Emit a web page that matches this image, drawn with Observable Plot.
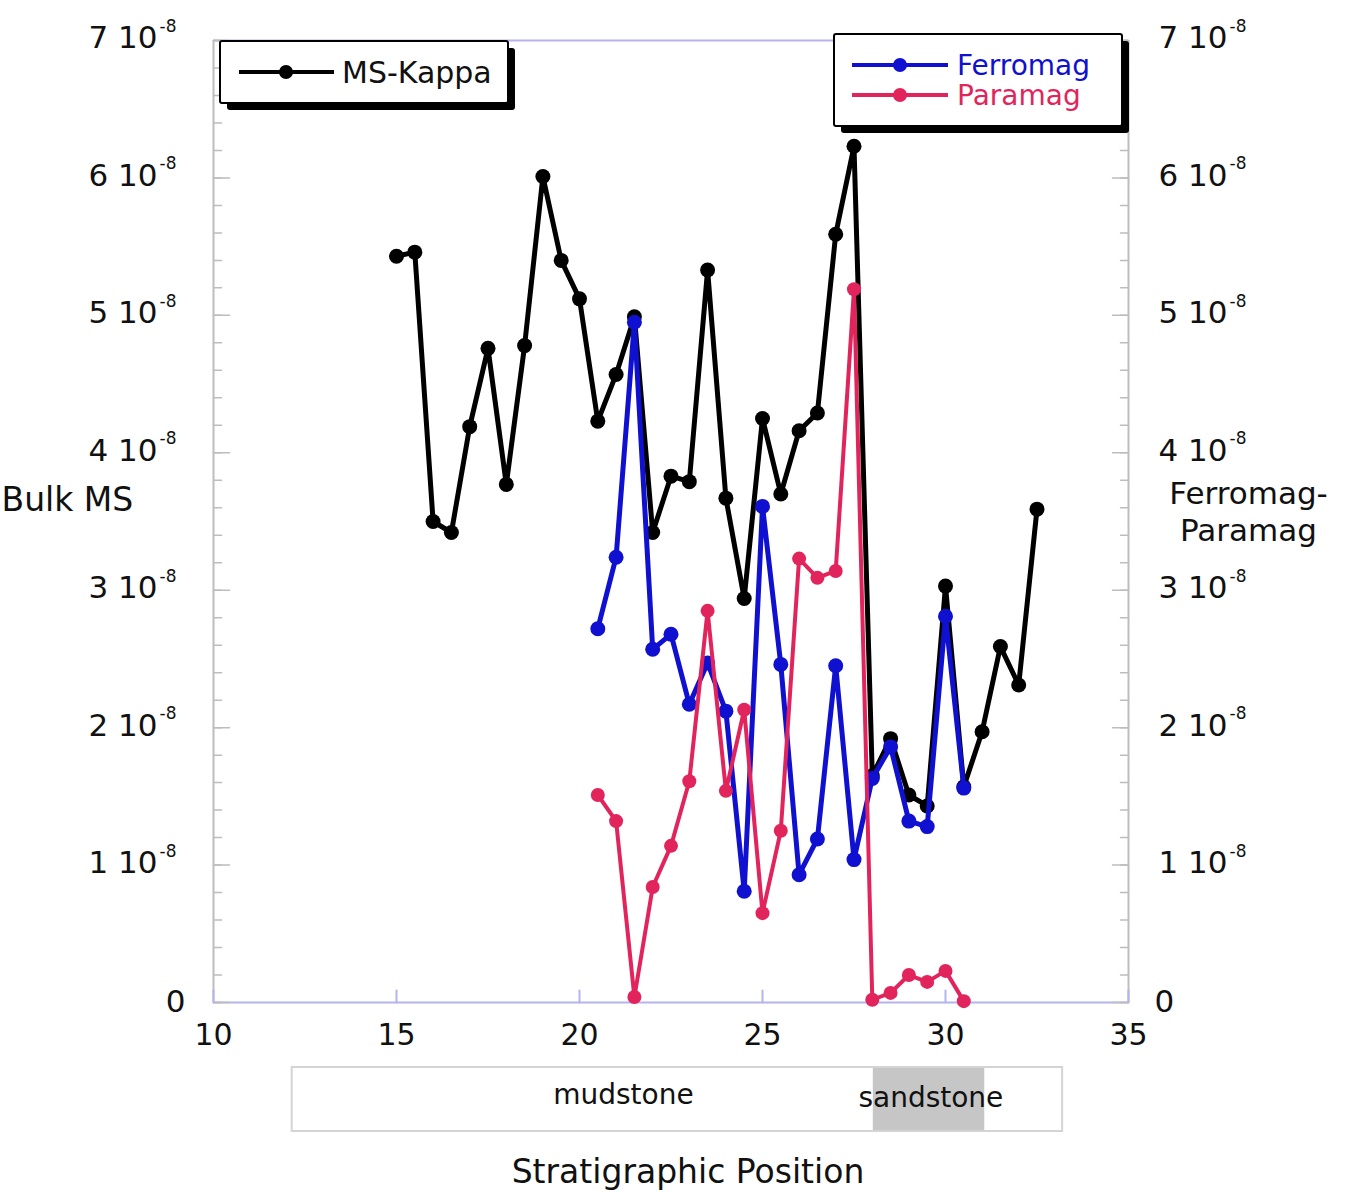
<!DOCTYPE html>
<html>
<head>
<meta charset="utf-8">
<script src="https://cdn.jsdelivr.net/npm/d3@7"></script>
<script src="https://cdn.jsdelivr.net/npm/@observablehq/plot@0.6"></script>
<style>
  html, body { margin: 0; padding: 0; background: #fff; }
  #wrap { position: relative; width: 1350px; height: 1202px; background: #fff; font-family: "DejaVu Sans", "Liberation Sans", sans-serif; overflow: hidden; }
  #main svg, #strip svg { display: block; overflow: visible; }
  #overlay { position: absolute; left: 0; top: 0; pointer-events: none; }
  #title { position: absolute; top: 1150px; left: 488px; width: 400px; text-align: center; font-size: 33px; color: #111; line-height: 44px; }
</style>
</head>
<body>
<div id="wrap">
  <div id="main"></div>
  <div id="strip"></div>
  <div id="title">Stratigraphic Position</div>
</div>
<script>
// ---- data (values in units of 1e-8) ----
const kappaPos = [15,15.5,16,16.5,17,17.5,18,18.5,19,19.5,20,20.5,21,21.5,22,22.5,23,23.5,24,24.5,25,25.5,26,26.5,27,27.5,28,28.5,29,29.5,30,30.5,31,31.5,32,32.5];
const msKappa  = [5.43,5.46,3.50,3.42,4.19,4.76,3.77,4.78,6.01,5.40,5.12,4.23,4.57,4.99,3.42,3.83,3.79,5.33,3.67,2.94,4.25,3.70,4.16,4.29,5.59,6.23,1.65,1.92,1.51,1.43,3.03,1.57,1.97,2.59,2.31,3.59];
const magPos   = [20.5,21,21.5,22,22.5,23,23.5,24,24.5,25,25.5,26,26.5,27,27.5,28,28.5,29,29.5,30,30.5];
const ferromag = [2.72,3.24,4.95,2.57,2.68,2.17,2.47,2.12,0.81,3.61,2.46,0.93,1.19,2.45,1.04,1.63,1.86,1.32,1.28,2.81,1.56];
const paramag  = [1.51,1.32,0.04,0.84,1.14,1.61,2.85,1.54,2.13,0.65,1.25,3.23,3.09,3.14,5.19,0.02,0.07,0.20,0.15,0.23,0.01];

const xTicks = [10,15,20,25,30,35];
const yTicks = [0,1,2,3,4,5,6,7];
const yLabelsNonZero = [1,2,3,4,5,6,7];
const yMinor = d3.range(0, 7.001, 0.2);
const exponentLabel = "-8";

const lithoBox = [{from: 12.15, to: 33.2}];
const lithoUnits = [{name: "sandstone", from: 28.0, to: 31.1}];
const mudLabel = [{name: "mudstone", at: 21.2}];
const sandLabel = [{name: "sandstone", at: 29.6}];

const colKappa = "#000000", colFerro = "#1010d0", colPara = "#e2245c";
const frameBlue = "#b4b4ee", axisGray = "#bdbdbd";

const kappaData = kappaPos.map((x, i) => ({x, y: msKappa[i]}));
const ferroData = magPos.map((x, i) => ({x, y: ferromag[i]}));
const paraData  = magPos.map((x, i) => ({x, y: paramag[i]}));

const tickShape = { draw(context, l) { context.moveTo(0, 0); context.lineTo(0, -l); } };
const FONT = "DejaVu Sans";

const main = Plot.plot({
  width: 1350, height: 1060,
  marginTop: 40, marginBottom: 58, marginLeft: 213, marginRight: 222,
  x: {domain: [10, 35], axis: null},
  y: {domain: [0, 7], axis: null},
  style: {fontFamily: FONT, background: "transparent", color: "#111"},
  marks: [
    Plot.ruleX([10, 35], {stroke: axisGray, strokeWidth: 2}),
    Plot.ruleY([0, 7], {stroke: frameBlue, strokeWidth: 2}),
    Plot.vector(yMinor, {y: d => d, frameAnchor: "left", length: 8, rotate: 90, anchor: "start", shape: tickShape, stroke: axisGray, strokeWidth: 1.5}),
    Plot.vector(yTicks, {y: d => d, frameAnchor: "left", length: 16, rotate: 90, anchor: "start", shape: tickShape, stroke: axisGray, strokeWidth: 1.5}),
    Plot.vector(yMinor, {y: d => d, frameAnchor: "right", length: 8, rotate: -90, anchor: "start", shape: tickShape, stroke: axisGray, strokeWidth: 1.5}),
    Plot.vector(yTicks, {y: d => d, frameAnchor: "right", length: 16, rotate: -90, anchor: "start", shape: tickShape, stroke: axisGray, strokeWidth: 1.5}),
    Plot.vector(xTicks, {x: d => d, frameAnchor: "bottom", length: 12, rotate: 0, anchor: "start", shape: tickShape, stroke: frameBlue, strokeWidth: 2}),
    Plot.text(xTicks, {x: d => d, frameAnchor: "bottom", dy: 42, text: d => String(d), fontSize: 30, fill: "#111"}),
    Plot.text(yLabelsNonZero, {y: d => d, frameAnchor: "left", text: d => `${d} 10`, textAnchor: "end", dx: -56, dy: -2, fontSize: 31, fill: "#111"}),
    Plot.text(yLabelsNonZero, {y: d => d, frameAnchor: "left", text: () => exponentLabel, textAnchor: "start", dx: -54, dy: -14, fontSize: 17, fill: "#111"}),
    Plot.text([0], {y: d => d, frameAnchor: "left", text: () => "0", textAnchor: "end", dx: -28, fontSize: 31, fill: "#111"}),
    Plot.text(yLabelsNonZero, {y: d => d, frameAnchor: "right", text: d => `${d} 10`, textAnchor: "end", dx: 99, dy: -2, fontSize: 31, fill: "#111"}),
    Plot.text(yLabelsNonZero, {y: d => d, frameAnchor: "right", text: () => exponentLabel, textAnchor: "start", dx: 101, dy: -14, fontSize: 17, fill: "#111"}),
    Plot.text([0], {y: d => d, frameAnchor: "right", text: () => "0", textAnchor: "start", dx: 26, fontSize: 31, fill: "#111"}),
    Plot.text(["Bulk MS"], {frameAnchor: "left", text: d => d, textAnchor: "start", dx: -212, dy: -21, fontSize: 33, fill: "#111"}),
    Plot.text(["Ferromag-\nParamag"], {frameAnchor: "right", text: d => d, textAnchor: "middle", dx: 120, dy: -11, fontSize: 31, lineHeight: 1.2, fill: "#111"}),
    Plot.line(kappaData, {x: "x", y: "y", stroke: colKappa, strokeWidth: 5}),
    Plot.dot(kappaData, {x: "x", y: "y", r: 7.5, fill: colKappa}),
    Plot.line(ferroData, {x: "x", y: "y", stroke: colFerro, strokeWidth: 5}),
    Plot.dot(ferroData, {x: "x", y: "y", r: 7.5, fill: colFerro}),
    Plot.line(paraData, {x: "x", y: "y", stroke: colPara, strokeWidth: 4}),
    Plot.dot(paraData, {x: "x", y: "y", r: 7, fill: colPara})
  ]
});
document.getElementById("main").appendChild(main);

const strip = Plot.plot({
  width: 1350, height: 142,
  marginTop: 7, marginBottom: 71, marginLeft: 213, marginRight: 222,
  x: {domain: [10, 35], axis: null},
  y: {domain: [0, 1], axis: null},
  style: {fontFamily: FONT, background: "transparent"},
  marks: [
    Plot.rect(lithoBox, {x1: "from", x2: "to", y1: 0, y2: 1, fill: "#ffffff", stroke: "#d4d4d4", strokeWidth: 2}),
    Plot.rect(lithoUnits, {x1: "from", x2: "to", y1: 0, y2: 1, fill: "#c6c6c6", inset: 1}),
    Plot.text(mudLabel, {x: "at", y: 0.5, text: "name", dy: -4, fontSize: 28, fill: "#111"}),
    Plot.text(sandLabel, {x: "at", y: 0.5, text: "name", dy: -1, fontSize: 28, fill: "#111"})
  ]
});
document.getElementById("strip").appendChild(strip);

// ---- legends (overlay) ----
const ov = d3.select("#wrap").append("svg")
  .attr("id", "overlay").attr("width", 1350).attr("height", 1202)
  .style("font-family", FONT);

function legendBox(x, y, w, h) {
  ov.append("rect").attr("x", x + 7).attr("y", y + 7).attr("width", w).attr("height", h).attr("rx", 3).attr("fill", "#000");
  ov.append("rect").attr("x", x).attr("y", y).attr("width", w).attr("height", h).attr("rx", 2).attr("fill", "#fff").attr("stroke", "#000").attr("stroke-width", 2);
}
function legendItem(x1, x2, cx, y, color, label, tx, fs, textColor) {
  ov.append("line").attr("x1", x1).attr("x2", x2).attr("y1", y).attr("y2", y).attr("stroke", color).attr("stroke-width", 4);
  ov.append("circle").attr("cx", cx).attr("cy", y).attr("r", 7).attr("fill", color);
  ov.append("text").attr("x", tx).attr("y", y).attr("dy", "0.36em").attr("font-size", fs).attr("fill", textColor).text(label);
}
legendBox(220, 41, 288, 62);
legendItem(239, 334, 286, 72, colKappa, "MS-Kappa", 342, 30, "#111");
legendBox(834, 34, 288, 92);
legendItem(852, 948, 900, 65, colFerro, "Ferromag", 957, 28, colFerro);
legendItem(852, 948, 900, 95, colPara, "Paramag", 957, 28, colPara);
</script>
</body>
</html>
